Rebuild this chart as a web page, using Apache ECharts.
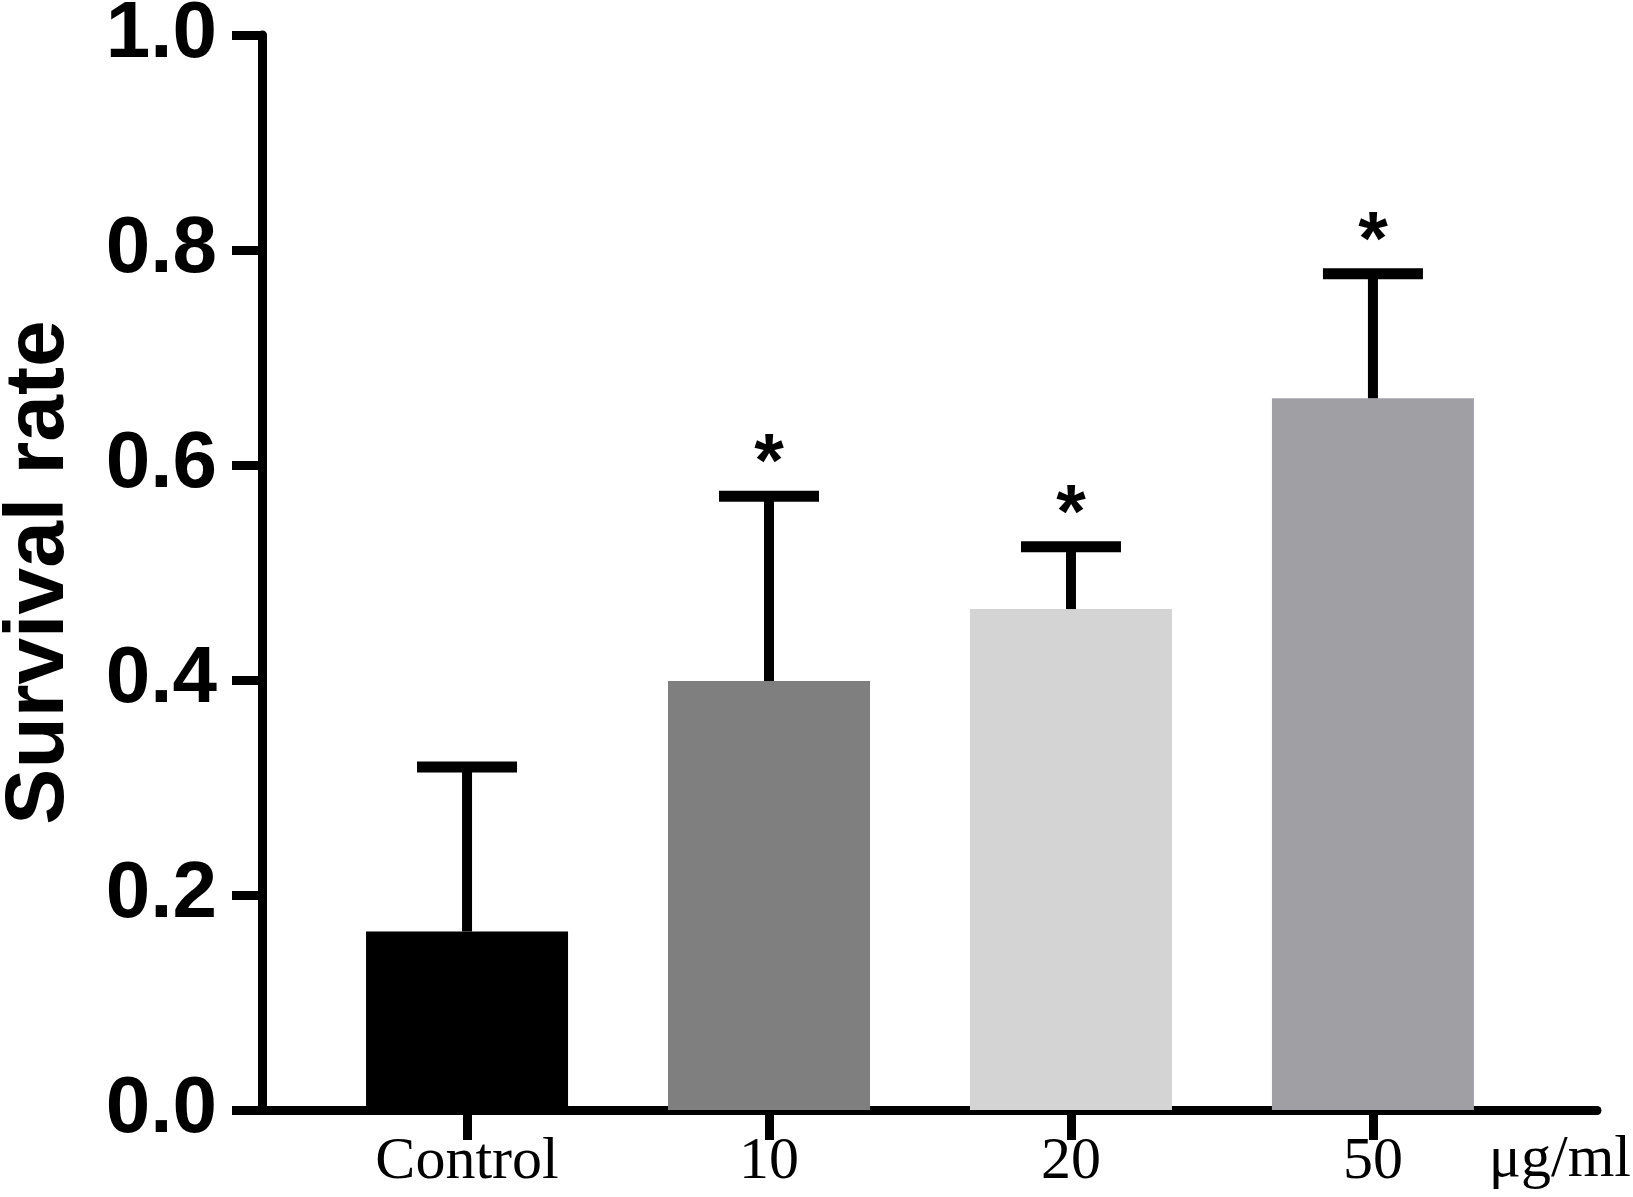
<!DOCTYPE html>
<html>
<head>
<meta charset="utf-8">
<title>Survival rate</title>
<script src="https://cdn.jsdelivr.net/npm/echarts@6/dist/echarts.min.js"></script>
<style>
    html, body { margin: 0; padding: 0; background: #fff; }
    #chart { width: 1633px; height: 1197px; }
</style>
</head>
<body>
<div id="chart"></div>
<script>
/*----------------------------------------------- data --------------------------------------*/
var categories = ['Control', '10', '20', '50'];
var means = [0.166, 0.399, 0.466, 0.662];
var errors = [0.153, 0.172, 0.058, 0.116];
var marks = ['', '*', '*', '*'];
var barColors = ['#000000', '#7f7f7f', '#d4d4d4', '#a09fa4'];
var yTicks = [0, 0.2, 0.4, 0.6, 0.8, 1.0];

/*----------------------------------------------- chart --------------------------------------*/
var myChart = echarts.init(document.getElementById('chart'), null, {renderer: 'canvas'});

var idx = categories.map(function (c, i) { return i; });

var barData = means.map(function (v, i) {
    return {value: [i, v], itemStyle: {color: barColors[i]}};
});
var errData = means.map(function (v, i) {
    return [i, v, v + errors[i], marks[i]];
});

// error bar (upper half only) + significance mark
function renderError(params, api) {
    var x = api.value(0);
    var base = api.coord([x, api.value(1)]);
    var top = api.coord([x, api.value(2)]);
    var capHalf = 50;
    var children = [
        {type: 'line', shape: {x1: base[0], y1: base[1], x2: top[0], y2: top[1]},
            style: {stroke: '#000', lineWidth: 10, lineCap: 'butt'}},
        {type: 'line', shape: {x1: top[0] - capHalf, y1: top[1], x2: top[0] + capHalf, y2: top[1]},
            style: {stroke: '#000', lineWidth: 11, lineCap: 'butt'}}
    ];
    var mark = errData[params.dataIndex][3];
    if (mark) {
        children.push({
            type: 'text',
            style: {
                text: mark, x: top[0], y: top[1] - 31,
                align: 'center', verticalAlign: 'middle',
                font: 'bold 76px "Liberation Sans", Arial, sans-serif', fill: '#000'
            }
        });
    }
    return {type: 'group', children: children};
}

var option = {
    animation: false,
    backgroundColor: '#fff',
    grid: {left: 262, right: 36, top: 35, bottom: 87, containLabel: false, outerBoundsMode: 'none'},
    xAxis: {
        type: 'value',
        min: -0.679,
        max: 3.742,
        splitLine: {show: false},
        axisLine: {show: true, onZero: false, lineStyle: {color: '#000', width: 9}},
        axisTick: {show: true, customValues: idx, length: 30, lineStyle: {color: '#000', width: 9}},
        axisLabel: {
            customValues: idx,
            margin: 22,
            color: '#000',
            fontFamily: '"Liberation Serif", "Times New Roman", serif',
            fontSize: 60,
            formatter: function (v) { return categories[Math.round(v)]; }
        }
    },
    yAxis: {
        type: 'value',
        min: yTicks[0],
        max: yTicks[yTicks.length - 1],
        interval: 0.2,
        name: 'Survival rate',
        nameLocation: 'middle',
        nameRotate: 90,
        nameGap: 180,
        nameTextStyle: {
            color: '#000', fontSize: 84, fontWeight: 'bold',
            fontFamily: '"Liberation Sans", Arial, sans-serif'
        },
        splitLine: {show: false},
        axisLine: {show: true, onZero: false, lineStyle: {color: '#000', width: 9}},
        axisTick: {show: true, length: 30, lineStyle: {color: '#000', width: 9}},
        axisLabel: {
            margin: 45,
            color: '#000',
            fontSize: 80,
            fontWeight: 'bold',
            fontFamily: '"Liberation Sans", Arial, sans-serif',
            formatter: function (v) { return v.toFixed(1); }
        }
    },
    graphic: [{
        type: 'text',
        right: 2,
        top: 1130,
        style: {
            text: 'μg/ml', fill: '#000',
            font: '60px "Liberation Serif", "Times New Roman", serif'
        }
    }],
    series: [{
        type: 'bar',
        barWidth: 202,
        data: barData,
        z: 2
    }, {
        type: 'custom',
        renderItem: renderError,
        data: errData,
        z: 3
    }]
};

myChart.setOption(option);
</script>
</body>
</html>
